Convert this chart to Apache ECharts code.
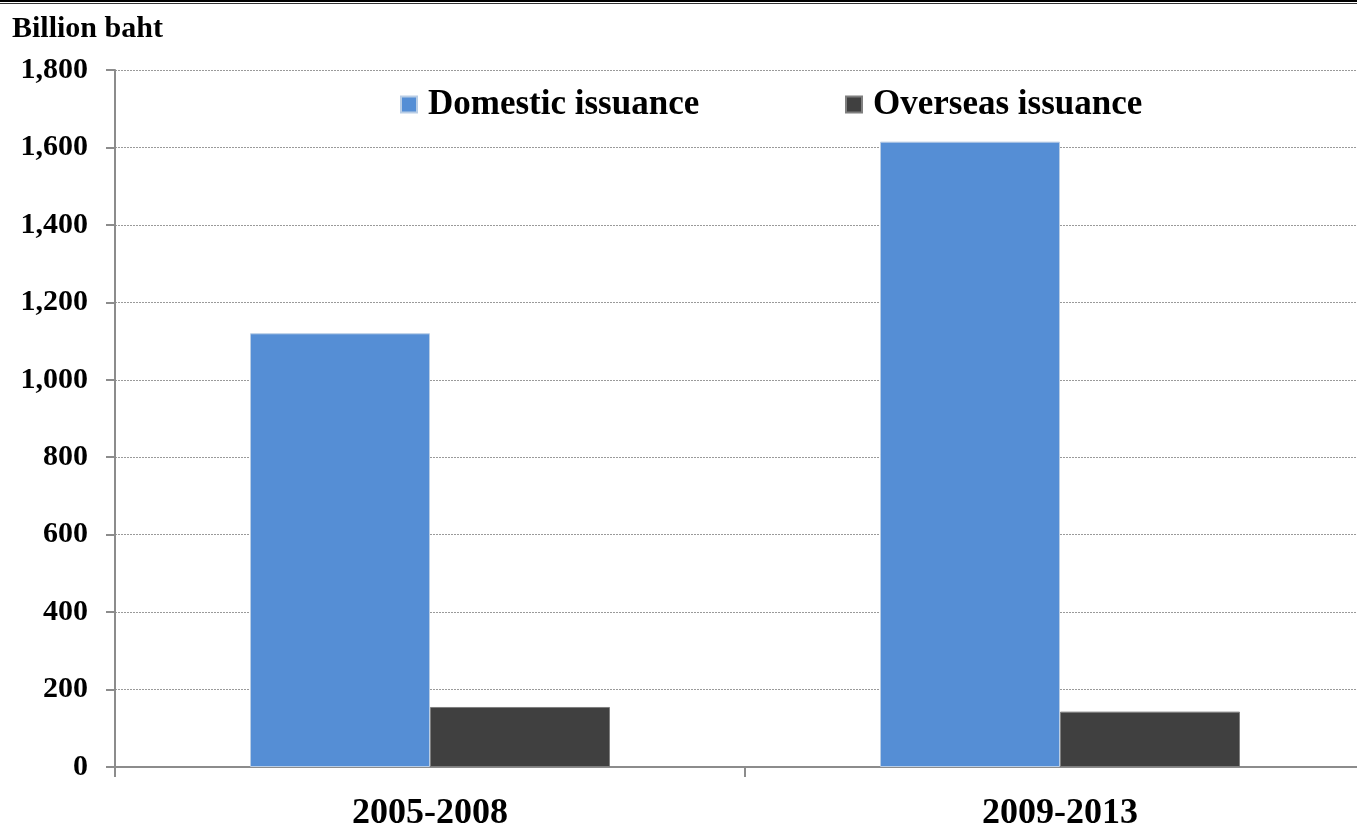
<!DOCTYPE html>
<html>
<head>
<meta charset="utf-8">
<script src="https://cdn.jsdelivr.net/npm/echarts@6/dist/echarts.min.js"></script>
<style>
  html, body { margin: 0; padding: 0; background: #fff; overflow: hidden; }
  /* the plot runs a little past the right edge of the page */
  #chart { width: 1375px; height: 832px; }
</style>
</head>
<body>
<div id="chart"></div>
<script>
// Corporate bond issuance by period (billion baht)
const periods = ['2005-2008', '2009-2013'];
const domesticIssuance = [1120, 1615];
const overseasIssuance = [155, 143];
const yTicks = { min: 0, max: 1800, step: 200 };

const serif = '"Liberation Serif", "DejaVu Serif", serif';
const chart = echarts.init(document.getElementById('chart'), null, { renderer: 'canvas' });

const legendText = { fontFamily: serif, fontWeight: 'bold', fontSize: 35, color: '#000', padding: [0, 0, 0, 6] };

chart.setOption({
  backgroundColor: '#ffffff',
  animation: false,
  title: {
    text: 'Billion baht',
    left: 7,
    top: 9,
    textStyle: { fontFamily: serif, fontWeight: 'bold', fontSize: 30, color: '#000' }
  },
  graphic: [
    { type: 'rect', left: 0, top: 0, shape: { width: 1375, height: 2 }, style: { fill: '#000' } },
    { type: 'rect', left: 0, top: 3, shape: { width: 1375, height: 1 }, style: { fill: '#333' } }
  ],
  legend: [
    {
      data: ['Domestic issuance'],
      left: 395, top: 82,
      itemWidth: 16, itemHeight: 16,
      icon: 'rect',
      textStyle: legendText
    },
    {
      data: ['Overseas issuance'],
      left: 840, top: 82,
      itemWidth: 16, itemHeight: 16,
      icon: 'rect',
      textStyle: legendText
    }
  ],
  grid: { left: 115, top: 70, right: 0, bottom: 64, containLabel: false },
  xAxis: {
    type: 'category',
    data: periods,
    axisLine: { lineStyle: { color: '#8c8c8c', width: 2 } },
    axisTick: { show: true, length: 10, alignWithLabel: false, lineStyle: { color: '#8c8c8c', width: 2 } },
    axisLabel: { fontFamily: serif, fontWeight: 'bold', fontSize: 36, color: '#000', margin: 29 },
    splitLine: { show: false }
  },
  yAxis: {
    type: 'value',
    min: yTicks.min,
    max: yTicks.max,
    interval: yTicks.step,
    axisLine: { show: true, lineStyle: { color: '#8c8c8c', width: 2 } },
    axisTick: { show: true, length: 9, lineStyle: { color: '#8c8c8c', width: 2 } },
    axisLabel: {
      fontFamily: serif, fontWeight: 'bold', fontSize: 30, color: '#000', margin: 27,
      formatter: v => v.toLocaleString('en-US')
    },
    splitLine: { show: true, lineStyle: { color: '#9a9a9a', width: 1, type: [2, 1] } }
  },
  series: [
    {
      name: 'Domestic issuance',
      type: 'bar',
      data: domesticIssuance,
      barWidth: 180,
      barGap: '0%',
      itemStyle: { color: '#558ed5', borderColor: '#b9cde5', borderWidth: 1 }
    },
    {
      name: 'Overseas issuance',
      type: 'bar',
      data: overseasIssuance,
      barWidth: 180,
      barGap: '0%',
      itemStyle: { color: '#404040', borderColor: '#7f7f7f', borderWidth: 1 }
    }
  ]
});
</script>
</body>
</html>
